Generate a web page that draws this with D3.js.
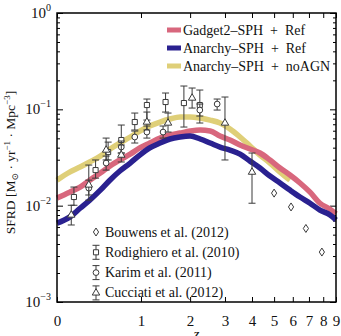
<!DOCTYPE html>
<html>
<head>
<meta charset="utf-8">
<script src="https://cdn.jsdelivr.net/npm/d3@7"></script>
<style>
  body { margin: 0; background: #fff; }
  svg { display: block; }
  svg text { font-family: "Liberation Serif", "DejaVu Serif", serif; }
</style>
</head>
<body>
<svg id="chart" width="341" height="336"></svg>
<script>
// redshift ticks (axis is log(1+z))
const zTicks = [0, 1, 2, 3, 4, 5, 6, 7, 8, 9];
const yMajor = [1e-3, 1e-2, 1e-1, 1];
const yMajorExp = ["−3", "−2", "−1", "0"];

// simulation curves
const gadgetZ = [0, 0.11, 0.21, 0.31, 0.43, 0.55, 0.68, 0.83, 0.98, 1.15, 1.34, 1.54, 1.76, 2.0, 2.26, 2.54, 2.84, 3.17, 3.53, 3.92, 4.34, 4.8, 5.3, 5.84, 6.43, 7.07, 7.76, 8.52, 9.0];
const gadgetV = [0.0120, 0.0138, 0.0156, 0.0184, 0.0218, 0.0258, 0.0298, 0.0343, 0.0397, 0.0447, 0.0504, 0.0541, 0.0567, 0.0595, 0.0610, 0.0595, 0.0528, 0.0480, 0.0426, 0.0387, 0.0352, 0.0298, 0.0246, 0.0208, 0.0172, 0.0138, 0.0106, 0.0092, 0.0082];

const anarchyZ = [0, 0.11, 0.21, 0.31, 0.43, 0.55, 0.68, 0.83, 0.98, 1.15, 1.34, 1.54, 1.76, 2.0, 2.26, 2.54, 2.84, 3.17, 3.53, 3.92, 4.34, 4.8, 5.3, 5.84, 6.43, 7.07, 7.76, 8.52, 9.0];
const anarchyV = [0.0066, 0.0076, 0.0094, 0.0114, 0.0145, 0.0185, 0.0229, 0.0277, 0.0335, 0.0397, 0.0447, 0.0492, 0.0516, 0.0528, 0.0492, 0.0447, 0.0406, 0.0378, 0.0343, 0.0290, 0.0246, 0.0203, 0.0172, 0.0145, 0.0123, 0.0106, 0.0090, 0.0080, 0.0071];

const noAgnZ = [0, 0.11, 0.21, 0.31, 0.43, 0.55, 0.68, 0.83, 0.98, 1.15, 1.34, 1.54, 1.76, 2.0, 2.26, 2.54, 2.84, 3.17, 3.53, 3.92, 4.34, 4.8, 5.3, 5.84];
const noAgnV = [0.0184, 0.0223, 0.0252, 0.0284, 0.0327, 0.0387, 0.0447, 0.0516, 0.0595, 0.0671, 0.0738, 0.0793, 0.0833, 0.0833, 0.0812, 0.0774, 0.0721, 0.0624, 0.0516, 0.0416, 0.0335, 0.0277, 0.0223, 0.0184];

// observations
const bouwensZ = [5.0, 5.9, 6.8, 7.9];
const bouwensV = [0.0135, 0.0097, 0.0058, 0.0033];

const rodZ = [0.15, 0.375, 0.525, 0.7, 0.9, 1.1, 1.45, 1.85, 2.25];
const rodV = [0.0123, 0.0234, 0.0360, 0.0480, 0.0738, 0.1108, 0.1191, 0.1162, 0.1108];
const rodLo = [0.0101, 0.0193, 0.0298, 0.0352, 0.0610, 0.0774, 0.0937, 0.0655, 0.0721];
const rodHi = [0.0156, 0.0298, 0.0457, 0.0687, 0.0915, 0.1279, 0.1477, 0.1746, 0.1586];

const karimZ = [0.3, 0.5, 0.7, 0.9, 1.1, 1.4, 2.25, 2.75];
const karimV = [0.0152, 0.0277, 0.0406, 0.0516, 0.0581, 0.0581, 0.0983, 0.1135];
const karimLo = [0.0129, 0.0234, 0.0352, 0.0447, 0.0503, 0.0503, 0.0852, 0.0983];
const karimHi = [0.0184, 0.0327, 0.0469, 0.0595, 0.0671, 0.0671, 0.1135, 0.1279];

const cucZ = [0.125, 0.3, 0.5, 0.7, 1.1, 1.5, 2.05, 3.0, 4.0];
const cucV = [0.0080, 0.0164, 0.0378, 0.0335, 0.0738, 0.0721, 0.1310, 0.0721, 0.0223];
const cucLo = [0.0063, 0.0114, 0.0298, 0.0284, 0.0610, 0.0581, 0.1031, 0.0298, 0.0106];
const cucHi = [0.0101, 0.0264, 0.0503, 0.0426, 0.0937, 0.0915, 0.1664, 0.1342, 0.0352];

const curveNames = ["Gadget2–SPH\u2002+\u2002Ref", "Anarchy–SPH\u2002+\u2002Ref", "Anarchy–SPH\u2002+\u2002noAGN"];
const curveColors = ["#d8677d", "#2a2190", "#dfcf78"];
const obsNames = ["Bouwens et al. (2012)", "Rodighiero et al. (2010)", "Karim et al. (2011)", "Cucciati et al. (2012)"];

const plot = { left: 57, right: 336, top: 13, bottom: 302 };
const svg = d3.select("#chart");

const x = d3.scaleLog().domain([1, 10]).range([plot.left, plot.right]);
const y = d3.scaleLog().domain([1e-3, 1]).range([plot.bottom, plot.top]);
const px = z => x(1 + z);

// ticks
const minorY = y.ticks().filter(v => !yMajor.some(m => Math.abs(m - v) / v < 1e-6));
const tickStyle = g => {
  g.attr("font-family", null).attr("font-size", null);
  g.select(".domain").remove();
  g.selectAll("line").attr("stroke", "#000").attr("stroke-width", 1);
};

svg.append("g").attr("transform", `translate(${plot.left},0)`)
  .call(d3.axisLeft(y).tickValues(yMajor).tickSize(-6).tickFormat("")).call(tickStyle);
svg.append("g").attr("transform", `translate(${plot.left},0)`)
  .call(d3.axisLeft(y).tickValues(minorY).tickSize(-3).tickFormat("")).call(tickStyle);
svg.append("g").attr("transform", `translate(${plot.right},0)`)
  .call(d3.axisRight(y).tickValues(yMajor).tickSize(-6).tickFormat("")).call(tickStyle);
svg.append("g").attr("transform", `translate(${plot.right},0)`)
  .call(d3.axisRight(y).tickValues(minorY).tickSize(-3).tickFormat("")).call(tickStyle);

svg.append("g").attr("transform", `translate(0,${plot.bottom})`)
  .call(d3.axisBottom(x).tickValues(zTicks.map(z => 1 + z)).tickSize(-5).tickPadding(13)
    .tickFormat(d => d3.format("d")(Math.round(d - 1))))
  .call(tickStyle)
  .call(g => g.selectAll("text").attr("font-size", 15).attr("fill", "#111"));
svg.append("g").attr("transform", `translate(0,${plot.top})`)
  .call(d3.axisTop(x).tickValues(zTicks.map(z => 1 + z)).tickSize(-5).tickFormat(""))
  .call(tickStyle);

// y tick labels 10^n
yMajor.forEach((v, i) => {
  const t = svg.append("text")
    .attr("x", 51).attr("y", y(v) + 5)
    .attr("text-anchor", "end").attr("font-size", 15).attr("fill", "#111");
  t.append("tspan").text("10");
  t.append("tspan").attr("dy", -7).attr("font-size", 10).text(yMajorExp[i]);
});

// simulation curves
const line = d3.line().x(d => px(d[0])).y(d => y(d[1])).curve(d3.curveMonotoneX);
const curves = [
  d3.zip(noAgnZ, noAgnV),
  d3.zip(gadgetZ, gadgetV),
  d3.zip(anarchyZ, anarchyV)
];
const curveColorOrder = [curveColors[2], curveColors[0], curveColors[1]];
svg.append("g").selectAll("path").data(curves).join("path")
  .attr("d", line)
  .attr("fill", "none")
  .attr("stroke", (d, i) => curveColorOrder[i])
  .attr("stroke-width", 5.5)
  .attr("stroke-linejoin", "round");

// observation markers
const diamond = "M0,-4L2.6,0L0,4L-2.6,0Z";
const sym = {
  square: d3.symbol(d3.symbolSquare, 26)(),
  circle: d3.symbol(d3.symbolCircle, 26)(),
  triangle: d3.symbol(d3.symbolTriangle, 24)(),
  diamond
};
const ink = "#3a3a3a";

const drawErr = (g, cx, y0, y1) => {
  g.append("line").attr("x1", cx).attr("x2", cx).attr("y1", y0).attr("y2", y1);
  g.append("line").attr("x1", cx - 3.5).attr("x2", cx + 3.5).attr("y1", y0).attr("y2", y0);
  g.append("line").attr("x1", cx - 3.5).attr("x2", cx + 3.5).attr("y1", y1).attr("y2", y1);
};

const obs = svg.append("g").attr("stroke", ink).attr("stroke-width", 1);
const errSets = [
  [rodZ, rodV, rodLo, rodHi, "square"],
  [karimZ, karimV, karimLo, karimHi, "circle"],
  [cucZ, cucV, cucLo, cucHi, "triangle"]
];
errSets.forEach(([zs, vs, lo, hi, s]) => {
  zs.forEach((z, i) => {
    const g = obs.append("g");
    drawErr(g, px(z), y(hi[i]), y(lo[i]));
    g.append("path").attr("d", sym[s]).attr("fill", "#fff")
      .attr("transform", `translate(${px(z)},${y(vs[i])})`);
  });
});
bouwensZ.forEach((z, i) => {
  obs.append("path").attr("d", sym.diamond).attr("fill", "#fff")
    .attr("transform", `translate(${px(z)},${y(bouwensV[i])})`);
});

// frame
svg.append("rect")
  .attr("x", plot.left).attr("y", plot.top)
  .attr("width", plot.right - plot.left).attr("height", plot.bottom - plot.top)
  .attr("fill", "none").attr("stroke", "#000").attr("stroke-width", 1.5);

// legend for curves
const leg = svg.append("g");
curveNames.forEach((name, i) => {
  const ly = 30 + i * 18;
  leg.append("rect").attr("x", 167).attr("y", ly - 2.5).attr("width", 14).attr("height", 5)
    .attr("fill", curveColors[i]);
  leg.append("text").attr("x", 183).attr("y", ly + 4.5).attr("font-size", 14).attr("fill", "#111")
    .text(name);
});

// legend for observations
const obsSyms = ["diamond", "square", "circle", "triangle"];
const leg2 = svg.append("g");
obsNames.forEach((name, i) => {
  const ly = 232 + i * 20.3;
  const g = leg2.append("g").attr("stroke", ink).attr("stroke-width", 1);
  if (i > 0) drawErr(g, 96, ly - 7, ly + 7);
  g.append("path").attr("d", sym[obsSyms[i]]).attr("fill", "#fff")
    .attr("transform", `translate(96,${ly})`);
  leg2.append("text").attr("x", 105).attr("y", ly + 4.5).attr("font-size", 14).attr("fill", "#111")
    .text(name);
});

// axis titles
const yt = svg.append("text")
  .attr("transform", `translate(15,${(plot.top + plot.bottom) / 2 + 5}) rotate(-90)`)
  .attr("text-anchor", "middle").attr("font-size", 13.5).attr("fill", "#111");
yt.append("tspan").text("SFRD [M");
yt.append("tspan").attr("font-size", 9).attr("dy", 2.5).text("⊙");
yt.append("tspan").attr("dy", -2.5).text(" · yr");
yt.append("tspan").attr("font-size", 9).attr("dy", -5).text("−1");
yt.append("tspan").attr("dy", 5).text(" · Mpc");
yt.append("tspan").attr("font-size", 9).attr("dy", -5).text("−3");
yt.append("tspan").attr("dy", 5).text("]");

svg.append("text")
  .attr("x", (plot.left + plot.right) / 2).attr("y", 339)
  .attr("text-anchor", "middle").attr("font-size", 15).attr("font-style", "italic").attr("fill", "#111")
  .text("z");
</script>
</body>
</html>
